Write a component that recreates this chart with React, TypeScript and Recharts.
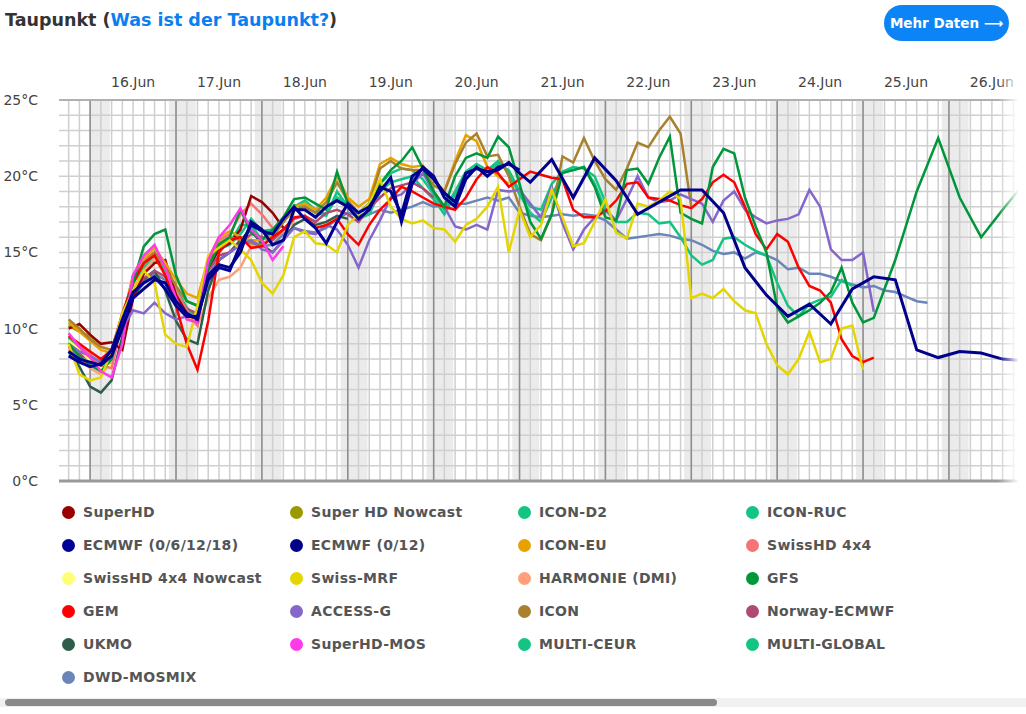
import React from "react";
import { LineChart, Line, XAxis, YAxis, ReferenceLine, ReferenceArea } from "recharts";

// hours are counted from 15 Jun 00:00; 3-hourly values start at 15 Jun 18:00
const dayLabels = ["16.Jun", "17.Jun", "18.Jun", "19.Jun", "20.Jun", "21.Jun", "22.Jun", "23.Jun", "24.Jun", "25.Jun", "26.Jun"];
const yTicks = [0, 5, 10, 15, 20, 25];

const superHD = [10.0, 10.3, 9.6, 9.0, 9.1, 8.6, 12.0, 13.6, 14.3, 14.5, 12.2, 11.0, 10.5, 14.0, 15.2, 15.6, 16.5, 18.7, 18.3, 17.6, 16.6];
const superHDNowcast = [10.2, 9.8, 9.5, 9.0];
const iconD2 = [9.4, 8.8, 8.1, 7.6, 8.2, 10.6, 13.4, 14.4, 15.0, 14.2, 12.6, 11.4, 10.6, 14.2, 15.4, 15.9];
const iconRUC = [9.1, 8.5, 7.9, 7.4, 8.0, 10.3, 13.0, 14.0, 14.5];
const ecmwf6h = [8.2, 7.8, 7.5, 7.7, 8.6, 10.6, 12.4, 13.0, 13.4, 12.6, 11.5, 10.8, 10.8, 13.2, 14.0, 13.8, 15.5, 16.8, 16.4, 16.2, 17.2, 18.0, 17.2, 16.6, 15.6, 17.0, 18.2, 17.6, 18.0, 19.0, 19.9, 17.0, 19.5, 20.6, 20.0, 18.6, 18.0, 19.8, 20.6, 20.0, 20.6, 20.8, 20.4];
const ecmwf12h = [8.5, 8.0, 7.8, 7.6, 8.2, 10.0, 12.0, 12.6, 13.2, 13.0, 11.8, 11.0, 10.6, 13.5, 14.2, 14.0, 15.0, 17.0, 16.5, 15.5, 15.8, 17.8, 17.8, 17.3, 18.0, 18.4, 18.0, 17.2, 17.8, 19.3, 19.0, 17.5, 20.0, 20.5, 19.8, 18.9, 18.3, 20.2, 20.5, 20.3, 20.4, 20.9, 20.2];
// from 21 Jun 03:00 on, 6-hourly
const ecmwf12hLate = [19.6, 21.1, 18.6, 21.2, 19.7, 17.5, 18.3, 19.1, 19.1, 17.6, 14.0, 12.2, 10.8, 11.6, 10.3, 12.6, 13.4, 13.2, 8.6, 8.1, 8.5, 8.4, 8.0, 7.9];
const iconEU = [10.4, 9.8, 9.2, 8.6, 8.4, 10.5, 13.5, 14.6, 15.3, 14.3, 13.2, 12.3, 12.0, 14.6, 16.0, 16.4, 16.0, 15.8, 15.8, 16.2, 17.3, 18.0, 18.2, 17.8, 18.6, 20.0, 18.6, 18.0, 18.5, 20.8, 21.2, 20.8, 20.6, 20.7, 19.8, 19.0, 21.0, 22.7, 22.3, 20.6, 20.0, 19.5];
const swissHD = [9.5, 9.0, 8.3, 7.6, 7.4, 10.3, 13.5, 14.5, 15.0, 14.0, 12.5, 11.2, 10.2, 14.5, 15.8, 16.2, 17.5, 18.2, 17.5, 16.6];
const swissHDNowcast = [9.2, 8.6, 7.9, 7.4, 7.6];
const swissMRF = [9.0, 7.0, 6.6, 6.8, 8.5, 11.0, 12.5, 13.8, 13.0, 9.6, 9.0, 8.8, 11.5, 14.8, 15.3, 15.8, 15.2, 14.5, 13.0, 12.3, 13.5, 16.0, 16.4, 15.6, 15.5, 15.0, 16.8, 17.5, 18.2, 19.8, 18.0, 17.2, 16.9, 17.1, 16.6, 16.5, 15.7, 16.8, 17.2, 18.0, 19.3, 15.0, 17.8, 16.0, 16.8, 19.1, 17.3, 15.4, 15.6, 17.0, 18.5, 16.3, 15.9, 18.2, 18.0, 18.4, 19.0, 18.5, 12.0, 12.3, 12.0, 12.6, 11.8, 11.2, 11.0, 9.0, 7.6, 7.0, 8.0, 9.8, 7.8, 8.0, 10.0, 10.2, 7.3];
const harmonie = [8.6, 8.0, 7.4, 7.0, 7.8, 10.5, 12.6, 13.8, 14.6, 13.5, 12.0, 10.8, 10.2, 12.0, 13.2, 13.4, 14.0, 15.4, 15.6, 15.8, 16.4, 17.0];
const gfs = [9.0, 8.2, 7.6, 7.2, 8.0, 10.5, 13.0, 15.4, 16.2, 16.5, 13.5, 11.8, 11.5, 14.0, 15.5, 16.0, 17.8, 16.3, 15.8, 16.5, 17.3, 18.5, 18.6, 18.2, 17.8, 20.3, 18.2, 17.5, 18.2, 19.5, 20.4, 21.0, 21.9, 20.5, 19.0, 18.0, 20.0, 21.2, 21.5, 21.2, 22.6, 21.9, 19.5, 17.0, 15.9, 17.5, 20.2, 20.4, 20.6, 19.3, 17.3, 17.1, 20.4, 20.5, 19.5, 21.2, 22.6, 17.6, 17.2, 16.9, 20.6, 21.8, 21.5, 18.6, 16.7, 15.0, 11.4, 10.4, 10.8, 11.2, 11.7, 12.4, 14.0, 11.7, 10.4, 10.7];
// from 24 Jun 21:00 on, 6-hourly
const gfsLate = [14.5, 19.0, 22.5, 18.6, 16.0, 17.8, 19.5];
const gem = [9.5, 9.0, 8.5, 8.0, 8.6, 11.0, 13.0, 14.3, 14.8, 13.5, 11.5, 9.0, 7.3, 10.5, 15.0, 15.8, 16.0, 15.3, 15.4, 16.0, 16.5, 17.3, 17.4, 16.6, 16.8, 17.2, 16.2, 15.5, 16.8, 17.8, 18.5, 19.3, 19.0, 18.6, 18.2, 18.0, 17.8, 18.6, 19.8, 20.6, 20.2, 19.3, 19.8, 20.3, 20.1, 19.9, 19.8, 17.8, 17.3, 17.3, 17.7, 18.4, 19.5, 19.6, 18.6, 18.5, 18.4, 18.1, 17.9, 18.5, 19.6, 20.1, 19.6, 18.0, 16.2, 15.2, 16.2, 15.7, 14.0, 12.8, 12.5, 11.7, 9.3, 8.2, 7.8, 8.1];
const accessG = [9.0, 8.5, 8.2, 7.8, 8.5, 10.0, 11.2, 11.0, 11.7, 11.0, 10.6, 10.8, 11.0, 13.5, 14.5, 15.0, 15.5, 15.8, 15.2, 15.0, 15.8, 16.6, 16.3, 16.2, 16.8, 16.5, 15.5, 14.0, 15.8, 17.1, 18.6, 18.8, 19.5, 20.2, 19.0, 18.0, 16.7, 16.5, 16.8, 16.5, 19.1, 19.0, 19.1, 18.2, 17.3, 19.3, 16.9, 15.2, 16.5, 17.3, 17.8, 17.1, 18.5, 20.0, 18.6, 18.3, 18.4, 18.8, 18.5, 18.2, 17.0, 18.4, 19.0, 17.8, 17.3, 16.9, 17.1, 17.2, 17.5, 19.1, 18.0, 15.2, 14.5, 14.5, 15.0, 11.1];
const icon = [10.6, 10.0, 9.3, 8.8, 8.6, 10.2, 13.2, 14.3, 15.0, 14.0, 12.8, 11.8, 11.5, 14.2, 15.6, 16.0, 15.8, 15.6, 15.5, 16.0, 17.0, 17.8, 18.0, 17.6, 18.3, 19.6, 18.4, 17.6, 18.2, 20.5, 21.0, 20.5, 20.4, 20.4, 19.4, 19.0, 20.8, 22.2, 22.8, 21.3, 21.4, 20.0, 18.0, 16.2, 15.8, 17.5, 21.3, 20.9, 22.5, 21.0, 19.8, 19.1, 20.5, 22.2, 21.9, 23.0, 23.9, 22.8, 18.0];
const norwayEcmwf = [8.8, 8.3, 8.0, 7.8, 8.4, 10.4, 12.5, 13.3, 13.8, 13.4, 12.2, 11.3, 11.0, 13.8, 14.8, 15.0, 15.6, 16.2, 16.0, 15.8, 16.5, 17.2, 17.4, 17.0, 17.6, 17.8, 17.5, 17.0, 17.9, 18.6, 19.2, 19.4, 19.6, 19.2, 18.6];
const ukmo = [8.5, 7.5, 6.2, 5.8, 6.6, 9.5, 12.0, 13.2, 13.8, 12.5, 10.5, 9.3, 9.0, 12.5, 14.5, 15.0, 15.8, 16.5, 15.5, 15.0, 15.8, 16.8, 17.2, 16.8, 17.0, 17.4, 17.2];
const superHDMos = [9.7, 8.8, 8.1, 7.2, 6.8, 9.0, 13.5, 14.8, 15.5, 14.0, 12.0, 10.6, 10.4, 14.5, 16.0, 16.8, 17.9, 16.5, 15.8, 14.5, 15.4];
const multiCeur = [9.2, 8.7, 8.2, 7.8, 8.5, 10.8, 13.2, 14.2, 14.8, 14.0, 12.5, 11.3, 10.8, 14.0, 15.2, 15.5, 16.2, 17.2, 16.4, 16.5, 17.2, 18.0, 18.4, 17.8, 17.5, 18.6, 18.2, 17.6, 18.0, 19.5, 20.2, 20.5, 20.4, 19.8, 18.8, 17.8, 19.0, 20.3, 20.8, 20.4, 21.0, 20.2, 18.8, 17.6, 17.0, 18.6, 20.3, 20.6, 20.5, 20.0, 18.3];
const multiGlobal = [9.0, 8.6, 8.0, 7.5, 8.3, 10.8, 13.0, 14.0, 14.6, 13.8, 12.2, 11.0, 10.3, 13.8, 15.3, 15.6, 16.8, 16.8, 15.8, 16.2, 17.0, 18.1, 18.0, 17.6, 17.4, 19.0, 18.0, 17.2, 17.5, 19.0, 19.6, 19.8, 20.0, 19.2, 18.5, 17.5, 18.8, 20.0, 20.6, 20.3, 20.8, 20.4, 19.0, 18.0, 17.8, 19.5, 20.3, 20.4, 20.6, 19.5, 17.8, 17.0, 17.0, 17.6, 17.5, 16.9, 17.0, 16.0, 14.8, 14.2, 14.5, 15.9, 16.0, 15.5, 15.1, 14.8, 13.0, 11.5, 10.8, 11.6, 11.9, 12.1, 13.2, 12.8];
const dwdMosmix = [8.6, 8.3, 8.0, 7.8, 8.3, 10.2, 12.0, 13.0, 13.6, 13.2, 12.0, 11.2, 10.8, 13.0, 14.5, 15.0, 15.5, 15.8, 15.4, 15.5, 16.2, 16.6, 16.4, 16.3, 16.6, 17.2, 17.6, 17.4, 17.5, 17.8, 17.6, 17.8, 18.0, 18.3, 18.0, 18.1, 18.2, 18.2, 18.4, 18.6, 18.4, 18.6, 17.6, 17.4, 17.3, 17.4, 17.5, 17.4, 17.5, 17.4, 17.1, 16.5, 15.9, 16.0, 16.1, 16.2, 16.1, 15.9, 15.8, 15.5, 15.1, 14.9, 15.0, 14.6, 15.0, 14.8, 14.5, 13.9, 14.0, 13.6, 13.6, 13.4, 13.1, 12.9, 12.7, 12.8, 12.5, 12.4, 12.1, 11.8, 11.7];

const pts = (start: number, step: number, vals: number[]) => vals.map((v, k) => ({ t: start + step * k, v }));
const hourly3 = (vals: number[]) => pts(18, 3, vals);

const models = [
  { name: "SuperHD", color: "#990000", data: hourly3(superHD) },
  { name: "Super HD Nowcast", color: "#999900", data: hourly3(superHDNowcast) },
  { name: "ICON-D2", color: "#14c482", data: hourly3(iconD2) },
  { name: "ICON-RUC", color: "#14c482", data: hourly3(iconRUC) },
  { name: "ECMWF (0/6/12/18)", color: "#000099", data: hourly3(ecmwf6h) },
  { name: "ECMWF (0/12)", color: "#00008b", data: hourly3(ecmwf12h).concat(pts(147, 6, ecmwf12hLate)) },
  { name: "ICON-EU", color: "#e8a200", data: hourly3(iconEU) },
  { name: "SwissHD 4x4", color: "#f77474", data: hourly3(swissHD) },
  { name: "SwissHD 4x4 Nowcast", color: "#ffff77", data: hourly3(swissHDNowcast) },
  { name: "Swiss-MRF", color: "#e3d500", data: hourly3(swissMRF) },
  { name: "HARMONIE (DMI)", color: "#ffa07a", data: hourly3(harmonie) },
  { name: "GFS", color: "#00963a", data: hourly3(gfs).concat(pts(249, 6, gfsLate)) },
  { name: "GEM", color: "#ff0000", data: hourly3(gem) },
  { name: "ACCESS-G", color: "#8566cc", data: hourly3(accessG) },
  { name: "ICON", color: "#a8802e", data: hourly3(icon) },
  { name: "Norway-ECMWF", color: "#b04a72", data: hourly3(norwayEcmwf) },
  { name: "UKMO", color: "#2e5e4a", data: hourly3(ukmo) },
  { name: "SuperHD-MOS", color: "#ff3ae8", data: hourly3(superHDMos) },
  { name: "MULTI-CEUR", color: "#14c482", data: hourly3(multiCeur) },
  { name: "MULTI-GLOBAL", color: "#14c482", data: hourly3(multiGlobal) },
  { name: "DWD-MOSMIX", color: "#6a86b8", data: hourly3(dwdMosmix) },
];

// bottom to top
const drawOrder = [
  "DWD-MOSMIX", "MULTI-GLOBAL", "MULTI-CEUR", "ICON-RUC", "ICON-D2", "HARMONIE (DMI)", "UKMO", "Norway-ECMWF",
  "SwissHD 4x4 Nowcast", "Super HD Nowcast", "SwissHD 4x4", "SuperHD", "ICON-EU", "ICON", "ACCESS-G", "GEM",
  "GFS", "Swiss-MRF", "SuperHD-MOS", "ECMWF (0/6/12/18)", "ECMWF (0/12)",
];

const FONT = "'DejaVu Sans', Verdana, sans-serif";
const dayStarts = dayLabels.map((_, k) => 24 + 24 * k);
const minorHours = Array.from({ length: 89 }, (_, k) => 18 + 3 * k);
const degreeLines = Array.from({ length: 24 }, (_, k) => k + 1);

export default function App() {
  return (
    <div style={{ position: "absolute", left: 0, top: 0, width: 1026, height: 714, background: "#fff", overflow: "hidden", fontFamily: FONT }}>
      <div style={{ position: "absolute", left: 5, top: 10, fontSize: 17.5, fontWeight: 700, lineHeight: "20px", color: "#333" }}>
        Taupunkt (<span style={{ color: "#0a7ff0" }}>Was ist der Taupunkt?</span>)
      </div>
      <div style={{ position: "absolute", left: 884, top: 5, width: 125, height: 36, borderRadius: 18, background: "#0d84f5", color: "#fff", fontSize: 13.5, fontWeight: 700, display: "flex", alignItems: "center", justifyContent: "center" }}>
        Mehr Daten ⟶
      </div>

      <div style={{ position: "absolute", left: 0, top: 0 }}>
        <LineChart width={1026} height={490} margin={{ top: 70, right: 8, bottom: 9, left: 0 }}>
          <XAxis
            type="number"
            dataKey="t"
            orientation="top"
            domain={[15.3, 283.3]}
            allowDataOverflow
            ticks={dayLabels.map((_, k) => 36 + 24 * k)}
            tickFormatter={(h: number) => dayLabels[Math.round((h - 36) / 24)]}
            height={30}
            axisLine={false}
            tickLine={false}
            tickSize={11}
            tick={{ fill: "#444", fontSize: 14, fontFamily: FONT }}
          />
          <YAxis
            type="number"
            domain={[0, 25]}
            ticks={yTicks}
            tickFormatter={(v: number) => `${v}°C`}
            width={59}
            axisLine={false}
            tickLine={false}
            tickSize={19}
            tick={{ fill: "#444", fontSize: 14, fontFamily: FONT }}
          />
          {dayStarts.map((d, k) => (
            <ReferenceArea key={"n" + d} x1={k === 0 ? d : d - 2} x2={d + 5.5} y1={0} y2={25} fill="#ebebeb" fillOpacity={1} stroke="none" ifOverflow="hidden" />
          ))}
          {minorHours.map((h) => (
            <ReferenceLine key={"v" + h} x={h} stroke="#cfcfcf" strokeWidth={1.5} />
          ))}
          {degreeLines.map((y) => (
            <ReferenceLine key={"h" + y} y={y} stroke="#cfcfcf" strokeWidth={1.5} />
          ))}
          {dayStarts.map((d) => (
            <ReferenceLine key={"d" + d} x={d} stroke="#8c8c8c" strokeWidth={1.5} />
          ))}
          <ReferenceLine y={25} stroke="#b0b0b0" strokeWidth={2} />
          <ReferenceLine y={0} stroke="#9a9a9a" strokeWidth={3} />
          {drawOrder.map((name) => {
            const m = models.find((s) => s.name === name)!;
            return (
              <Line
                key={m.name}
                data={m.data}
                dataKey="v"
                name={m.name}
                type="linear"
                stroke={m.color}
                strokeWidth={m.name.startsWith("ECMWF") ? 3 : 2.5}
                dot={false}
                activeDot={false}
                isAnimationActive={false}
              />
            );
          })}
        </LineChart>
      </div>

      <div style={{ position: "absolute", left: 998, top: 60, width: 28, height: 430, background: "linear-gradient(to right, rgba(255,255,255,0), #fff 75%)" }} />

      {models.map((m, k) => (
        <div key={m.name} style={{ position: "absolute", left: 62 + (k % 4) * 228, top: 502 + Math.floor(k / 4) * 33, height: 20, display: "flex", alignItems: "center", whiteSpace: "nowrap" }}>
          <span style={{ width: 13, height: 13, borderRadius: "50%", background: m.color, display: "inline-block", marginRight: 8 }} />
          <span style={{ fontSize: 14, fontWeight: 700, color: "#555", letterSpacing: 0.3 }}>{m.name}</span>
        </div>
      ))}

      <div style={{ position: "absolute", left: 0, top: 698, width: 1026, height: 9, background: "#f1f1f1" }} />
      <div style={{ position: "absolute", left: 5, top: 699, width: 712, height: 7, borderRadius: 4, background: "#8a8a8a" }} />
    </div>
  );
}
